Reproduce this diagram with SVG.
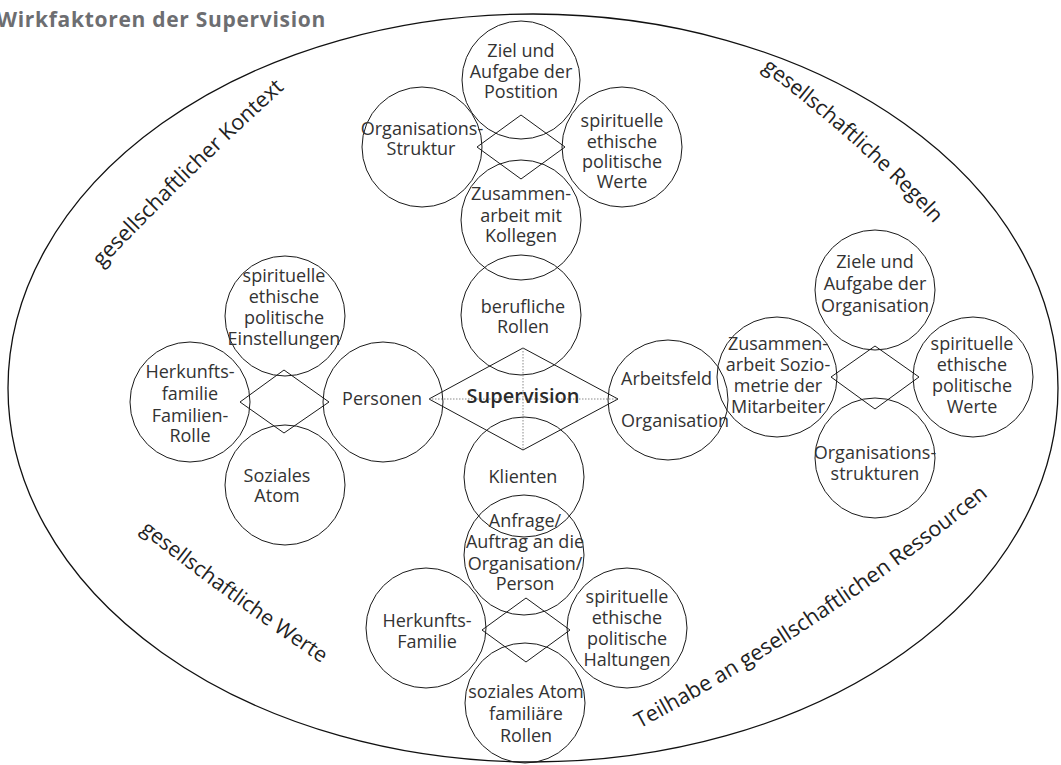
<svg xmlns="http://www.w3.org/2000/svg" width="1061" height="765" viewBox="0 0 1061 765">
<style>
.c{fill:none;stroke:#1a1a1a;stroke-width:1}
.t{font-family:"Open Sans","Noto Sans",sans-serif;font-size:18px;fill:#333;text-anchor:middle}
.ts{font-family:"Open Sans","Noto Sans",sans-serif;font-size:18px;fill:#333;text-anchor:start}
.d{fill:none;stroke:#1a1a1a;stroke-width:1}
.dot{stroke:#8a8a8a;stroke-width:1;stroke-dasharray:1.5 1.5}
.arc{font-family:"Open Sans","Noto Sans",sans-serif;font-size:21.5px;fill:#222}
.sup{font-family:"Open Sans","Noto Sans",sans-serif;font-size:20px;font-weight:600;fill:#2a2a2a;text-anchor:middle}
.title{font-family:"Open Sans","Noto Sans",sans-serif;font-size:21px;font-weight:bold;fill:#6d6e71;text-anchor:end;letter-spacing:0.7px}
</style>
<defs>
<path id="pKontext" d="M91.5,278.3 Q189.3,174.3 295.5,78.9"/>
<path id="pRegeln" d="M757,66 Q855.6,138.2 938,228"/>
<path id="pWerte" d="M124,518.7 Q227.6,601.4 338.2,674.3"/>
<path id="pTeilhabe" d="M620.3,738.8 Q825.1,631.7 1005.3,481.6"/>
</defs>
<rect width="1061" height="765" fill="#fff"/>
<text class="title" x="326" y="27">Wirkfaktoren der Supervision</text>
<g id="frame">
<ellipse cx="533" cy="388" rx="525" ry="374" fill="none" stroke="#111" stroke-width="1.3"/>
<text class="arc"><textPath href="#pKontext" startOffset="50%" text-anchor="middle">gesellschaftlicher Kontext</textPath></text>
<text class="arc" style="font-size:21px"><textPath href="#pRegeln" startOffset="50%" text-anchor="middle">gesellschaftliche Regeln</textPath></text>
<text class="arc" style="font-size:21px"><textPath href="#pWerte" startOffset="50%" text-anchor="middle">gesellschaftliche Werte</textPath></text>
<text class="arc"><textPath href="#pTeilhabe" startOffset="50%" text-anchor="middle">Teilhabe an gesellschaftlichen Ressourcen</textPath></text>
</g>
<g id="connectors">
<polygon class="d" points="521,115 565,147 521,179 477,147"/>
<polygon class="d" points="284,370 329,402 284,433 240,402"/>
<polygon class="d" points="875,346 919,377 875,409 831,377"/>
<polygon class="d" points="526,598 570,630 526,662 482,630"/>
</g>
<g id="ziel-position"><circle class="c" cx="521" cy="80" r="59"/>
<text class="t" x="521" y="57">Ziel und</text><text class="t" x="521" y="78">Aufgabe der</text><text class="t" x="521" y="98">Postition</text></g>
<g id="org-struktur"><circle class="c" cx="422" cy="147" r="60"/>
<text class="t" x="422" y="135">Organisations-</text><text class="t" x="421" y="155">Struktur</text></g>
<g id="werte-top"><circle class="c" cx="622" cy="147" r="60"/>
<text class="t" x="622" y="127">spirituelle</text><text class="t" x="622" y="148">ethische</text><text class="t" x="622" y="168">politische</text><text class="t" x="622" y="188">Werte</text></g>
<g id="kollegen"><circle class="c" cx="521" cy="220" r="60"/>
<text class="t" x="521" y="200">Zusammen-</text><text class="t" x="521" y="222">arbeit mit</text><text class="t" x="521" y="242">Kollegen</text></g>
<g id="berufliche-rollen"><circle class="c" cx="521" cy="315" r="60"/>
<text class="t" x="523" y="313">berufliche</text><text class="t" x="523" y="333">Rollen</text></g>
<g id="supervision">
<polygon class="d" points="523,348 618,399 523,450 429,399"/>
<line class="dot" x1="429" y1="399" x2="618" y2="399"/>
<line class="dot" x1="523" y1="348" x2="523" y2="450"/>
<text class="sup" x="523" y="403">Supervision</text></g>
<g id="personen"><circle class="c" cx="383" cy="402" r="60"/>
<text class="t" x="382" y="405">Personen</text></g>
<g id="arbeitsfeld"><circle class="c" cx="668" cy="400" r="60"/>
<text class="ts" x="621" y="385">Arbeitsfeld</text><text class="ts" x="621" y="427">Organisation</text></g>
<g id="klienten"><circle class="c" cx="524" cy="477" r="60"/>
<text class="t" x="523" y="483">Klienten</text></g>
<g id="einstellungen"><circle class="c" cx="285" cy="316" r="60"/>
<text class="t" x="284" y="282">spirituelle</text><text class="t" x="284" y="303">ethische</text><text class="t" x="284" y="324">politische</text><text class="t" x="284" y="345">Einstellungen</text></g>
<g id="herkunftsfamilie"><circle class="c" cx="190" cy="402" r="60"/>
<text class="t" x="190" y="378">Herkunfts-</text><text class="t" x="190" y="400">familie</text><text class="t" x="190" y="422">Familien-</text><text class="t" x="190" y="442">Rolle</text></g>
<g id="soziales-atom"><circle class="c" cx="285" cy="485" r="60"/>
<text class="t" x="277" y="482">Soziales</text><text class="t" x="277" y="502">Atom</text></g>
<g id="ziele-organisation"><circle class="c" cx="875" cy="290" r="60"/>
<text class="t" x="875" y="268">Ziele und</text><text class="t" x="875" y="290">Aufgabe der</text><text class="t" x="875" y="312">Organisation</text></g>
<g id="soziometrie"><circle class="c" cx="777" cy="377" r="60"/>
<text class="t" x="778" y="350">Zusammen-</text><text class="t" x="778" y="371">arbeit Sozio-</text><text class="t" x="778" y="392">metrie der</text><text class="t" x="778" y="413">Mitarbeiter</text></g>
<g id="werte-right"><circle class="c" cx="973" cy="377" r="60"/>
<text class="t" x="972" y="350">spirituelle</text><text class="t" x="972" y="371">ethische</text><text class="t" x="972" y="392">politische</text><text class="t" x="972" y="413">Werte</text></g>
<g id="organisationsstrukturen"><circle class="c" cx="875" cy="458" r="60"/>
<text class="t" x="875" y="459">Organisations-</text><text class="t" x="875" y="480">strukturen</text></g>
<g id="anfrage"><circle class="c" cx="524" cy="555" r="60"/>
<text class="t" x="525" y="527">Anfrage/</text><text class="t" x="525" y="548">Auftrag an die</text><text class="t" x="525" y="570">Organisation/</text><text class="t" x="525" y="590">Person</text></g>
<g id="herkunfts-familie"><circle class="c" cx="426" cy="628" r="60"/>
<text class="t" x="427" y="627">Herkunfts-</text><text class="t" x="427" y="648">Familie</text></g>
<g id="haltungen"><circle class="c" cx="627" cy="628" r="60"/>
<text class="t" x="627" y="603">spirituelle</text><text class="t" x="627" y="624">ethische</text><text class="t" x="627" y="645">politische</text><text class="t" x="627" y="666">Haltungen</text></g>
<g id="familiaere-rollen"><circle class="c" cx="525" cy="703" r="60"/>
<text class="t" x="526" y="698">soziales Atom</text><text class="t" x="526" y="720">familiäre</text><text class="t" x="526" y="742">Rollen</text></g>
</svg>
